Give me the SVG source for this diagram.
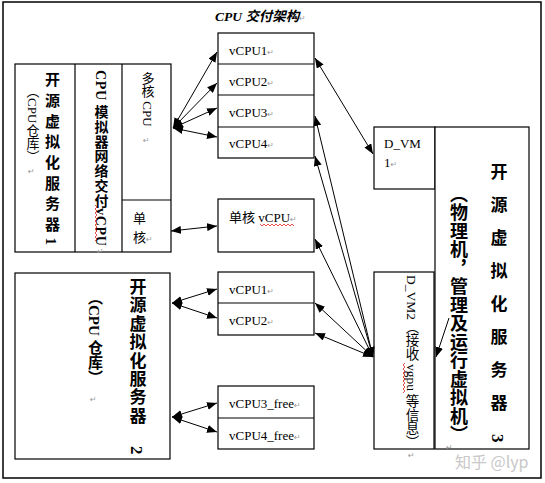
<svg xmlns="http://www.w3.org/2000/svg" width="545" height="483" viewBox="0 0 545 483">
<style>
.box{fill:#fff;stroke:#000;stroke-width:1.2}
.lbl{font-family:"Liberation Serif","Noto Sans CJK SC",serif;font-size:13px;fill:#000}
.cjk{font-family:"Liberation Serif","Noto Sans CJK SC",sans-serif;fill:#000}
.v{writing-mode:vertical-rl}
.b{font-weight:bold}
.pm{font-family:"DejaVu Sans",sans-serif;font-size:8px;fill:#999}
.con line{stroke:#000;stroke-width:1;marker-start:url(#ah);marker-end:url(#ah)}
.sq{fill:none;stroke:#d22;stroke-width:0.8}
</style>
<defs>
<marker id="ah" markerUnits="userSpaceOnUse" markerWidth="10" markerHeight="8" refX="10" refY="4" orient="auto-start-reverse" viewBox="0 0 10 8">
<path d="M0,0 L10,4 L0,8 z" fill="#000"/>
</marker>
</defs>
<rect x="0" y="0" width="545" height="483" fill="#fff"/>
<rect x="3" y="2" width="538" height="476" fill="none" stroke="#000" stroke-width="1.5"/>
<g id="title">
<text x="215" y="21" class="cjk b" font-style="italic" font-size="13.5">CPU 交付架构</text>
<text x="299" y="21" class="pm">↵</text>
</g>
<g id="server1">
<rect class="box" x="15" y="64" width="156" height="188"/>
<line x1="75" y1="64" x2="75" y2="252" stroke="#000" stroke-width="1.2"/>
<line x1="122" y1="64" x2="122" y2="252" stroke="#000" stroke-width="1.2"/>
<line x1="122" y1="200" x2="171" y2="200" stroke="#000" stroke-width="1.2"/>
<text x="51" y="72" class="cjk b v" font-size="15" letter-spacing="5.7">开源虚拟化服务器1</text>
<text x="32" y="85" class="cjk v" font-size="13">（CPU仓库）</text>
<text x="28" y="174" class="pm">↵</text>
<text x="100" y="70" class="cjk b v" font-size="14" letter-spacing="0.7">CPU 模拟器网络交付vCPU</text>
<text x="97" y="254" class="pm">↵</text>
<polyline class="sq" points="95,205 97,207 95,209 97,211 95,213 97,215 95,217 97,219 95,221 97,223 95,225 97,227 95,229 97,231 95,233 97,235 95,237 97,239 95,241"/>
<text x="147" y="72" class="cjk v" font-size="13">多核 CPU</text>
<text x="143" y="143" class="pm">↵</text>
<text x="133" y="223" class="cjk" font-size="13">单</text>
<text x="133" y="242" class="cjk" font-size="13">核</text>
<text x="146" y="242" class="pm">↵</text>
</g>
<g id="vcpu-stack1">
<rect class="box" x="218" y="33" width="96" height="125"/>
<line x1="218" y1="64" x2="314" y2="64" stroke="#000" stroke-width="1.2"/>
<line x1="218" y1="95" x2="314" y2="95" stroke="#000" stroke-width="1.2"/>
<line x1="218" y1="127" x2="314" y2="127" stroke="#000" stroke-width="1.2"/>
<text x="229" y="55" class="lbl">vCPU1<tspan class="pm">↵</tspan></text>
<text x="229" y="86" class="lbl">vCPU2<tspan class="pm">↵</tspan></text>
<text x="229" y="117" class="lbl">vCPU3<tspan class="pm">↵</tspan></text>
<text x="229" y="148" class="lbl">vCPU4<tspan class="pm">↵</tspan></text>
</g>
<g id="single-vcpu">
<rect class="box" x="218" y="199" width="96" height="53"/>
<text x="229" y="222" class="lbl">单核 vCPU<tspan class="pm">↵</tspan></text>
<polyline class="sq" points="260,224 262,226 264,224 266,226 268,224 270,226 272,224 274,226 276,224 278,226 280,224 282,226 284,224 286,226 288,224 290,226 292,224 294,226"/>
</g>
<g id="server2">
<rect class="box" x="15" y="273" width="155" height="186"/>
<text x="136" y="278" class="cjk b v" font-size="17" letter-spacing="1.4">开源虚拟化服务器</text>
<text x="136" y="446" class="cjk b v" font-size="17">2</text>
<text x="94" y="290" class="cjk b v" font-size="15">（CPU 仓库）</text>
<text x="90" y="402" class="pm">↵</text>
</g>
<g id="vcpu-stack2">
<rect class="box" x="218" y="272" width="96" height="63"/>
<line x1="218" y1="303" x2="314" y2="303" stroke="#000" stroke-width="1.2"/>
<text x="229" y="294" class="lbl">vCPU1<tspan class="pm">↵</tspan></text>
<text x="229" y="325" class="lbl">vCPU2<tspan class="pm">↵</tspan></text>
</g>
<g id="vcpu-stack3">
<rect class="box" x="218" y="386" width="96" height="63"/>
<line x1="218" y1="418" x2="314" y2="418" stroke="#000" stroke-width="1.2"/>
<text x="229" y="408" class="lbl">vCPU3_free<tspan class="pm">↵</tspan></text>
<text x="229" y="440" class="lbl">vCPU4_free<tspan class="pm">↵</tspan></text>
</g>
<g id="dvm1">
<rect class="box" x="374" y="127" width="61" height="62"/>
<text x="384" y="148" class="lbl">D_VM</text>
<text x="384" y="167" class="lbl">1<tspan class="pm">↵</tspan></text>
</g>
<g id="server3">
<rect class="box" x="435" y="127" width="94" height="322"/>
<text x="497" y="163" class="cjk b v" font-size="17" letter-spacing="16">开源虚拟化服务器</text>
<text x="497" y="434" class="cjk b v" font-size="17">3</text>
<text x="457" y="185" class="cjk b v" font-size="18" letter-spacing="0.5">（物理机，管理及运行虚拟机）</text>
<text x="446" y="450" class="pm">↵</text>
</g>
<g id="dvm2">
<rect class="box" x="374" y="272" width="60" height="177"/>
<text x="411" y="275" class="cjk v" font-size="13.5">D_VM2（接收 vgpu 等信息）</text>
<text x="408" y="458" class="pm">↵</text>
<polyline class="sq" points="405,363 403,365 405,367 403,369 405,371 403,373 405,375 403,377 405,379 403,381 405,383 403,385 405,387 403,389 405,391 403,393"/>
</g>
<g id="connectors" class="con">
<line x1="173" y1="128" x2="217" y2="52"/>
<line x1="173" y1="128" x2="217" y2="83"/>
<line x1="173" y1="128" x2="217" y2="108"/>
<line x1="173" y1="128" x2="217" y2="137"/>
<line x1="171" y1="231" x2="217" y2="226"/>
<line x1="315" y1="58" x2="373" y2="154"/>
<line x1="373" y1="357" x2="315" y2="116"/>
<line x1="373" y1="357" x2="315" y2="156"/>
<line x1="373" y1="357" x2="315" y2="239"/>
<line x1="373" y1="357" x2="315" y2="303"/>
<line x1="373" y1="357" x2="315" y2="333"/>
<line x1="172" y1="303" x2="217" y2="289"/>
<line x1="172" y1="303" x2="217" y2="318"/>
<line x1="172" y1="417" x2="217" y2="403"/>
<line x1="172" y1="417" x2="217" y2="432"/>
<line x1="449" y1="318" x2="436" y2="357" style="marker-start:none"/>
</g>
<text x="455" y="468" font-family="'Noto Sans CJK SC',sans-serif" font-size="16" fill="#c8c8c8">知乎 @lyp</text>
</svg>
